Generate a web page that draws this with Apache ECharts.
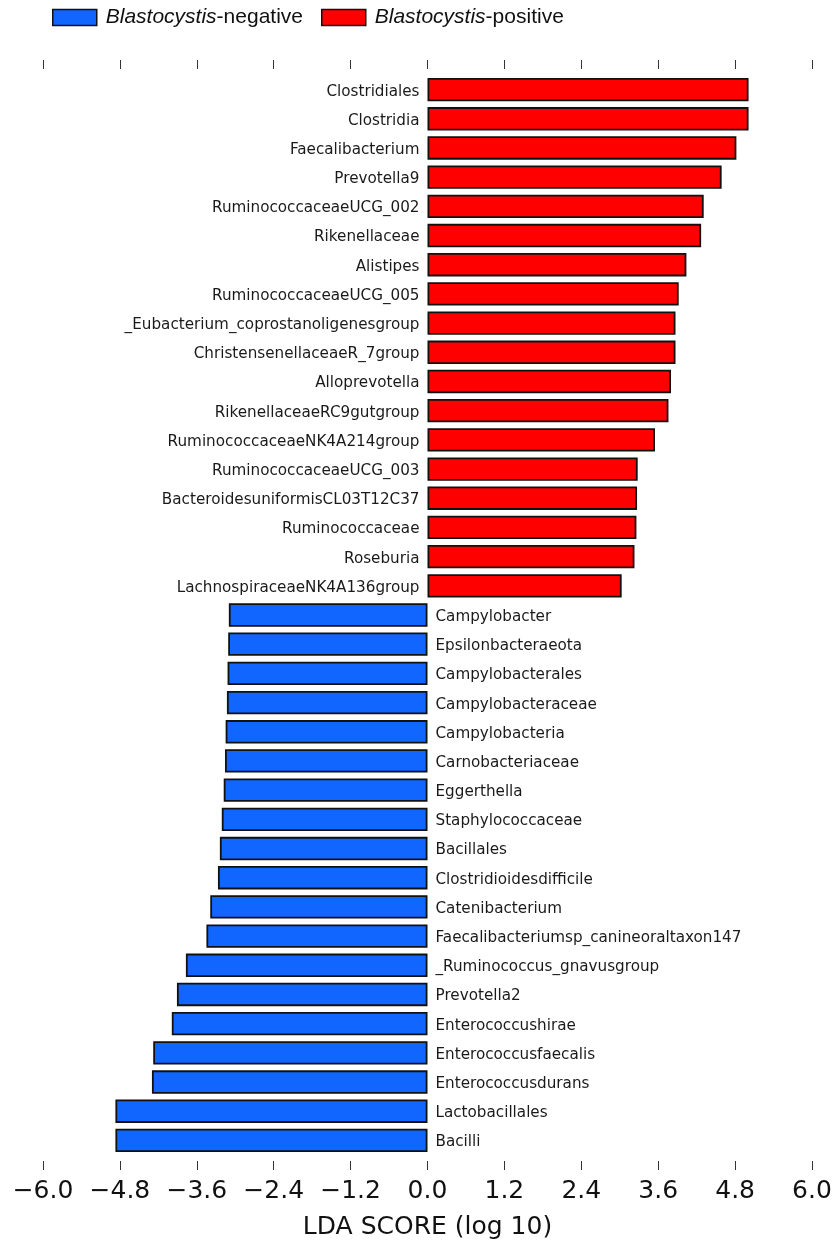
<!DOCTYPE html>
<html>
<head>
<meta charset="utf-8">
<title>LDA scores</title>
<script src="https://cdn.jsdelivr.net/npm/echarts@6/dist/echarts.min.js"></script>
<style>
  html, body { margin: 0; padding: 0; background: #ffffff; }
  #chart { width: 837px; height: 1245px; }
</style>
</head>
<body>
<div id="chart"></div>
<script>
// Taxa ordered top to bottom
const taxa = [
  'Clostridiales', 'Clostridia', 'Faecalibacterium', 'Prevotella9',
  'RuminococcaceaeUCG_002', 'Rikenellaceae', 'Alistipes', 'RuminococcaceaeUCG_005',
  '_Eubacterium_coprostanoligenesgroup', 'ChristensenellaceaeR_7group', 'Alloprevotella',
  'RikenellaceaeRC9gutgroup', 'RuminococcaceaeNK4A214group', 'RuminococcaceaeUCG_003',
  'BacteroidesuniformisCL03T12C37', 'Ruminococcaceae', 'Roseburia', 'LachnospiraceaeNK4A136group',
  'Campylobacter', 'Epsilonbacteraeota', 'Campylobacterales', 'Campylobacteraceae',
  'Campylobacteria', 'Carnobacteriaceae', 'Eggerthella', 'Staphylococcaceae', 'Bacillales',
  'Clostridioidesdifficile', 'Catenibacterium', 'Faecalibacteriumsp_canineoraltaxon147',
  '_Ruminococcus_gnavusgroup', 'Prevotella2', 'Enterococcushirae', 'Enterococcusfaecalis',
  'Enterococcusdurans', 'Lactobacillales', 'Bacilli'
];

// LDA scores enriched in Blastocystis-positive samples (first 18 taxa)
const positiveScores = [
  5.01, 5.01, 4.82, 4.59, 4.31, 4.27, 4.04, 3.92, 3.87, 3.87,
  3.80, 3.76, 3.55, 3.28, 3.27, 3.26, 3.23, 3.03
];

// LDA scores enriched in Blastocystis-negative samples (remaining 19 taxa)
const negativeScores = [
  -3.10, -3.11, -3.12, -3.13, -3.15, -3.16, -3.18, -3.21, -3.24, -3.27,
  -3.39, -3.45, -3.77, -3.91, -3.99, -4.28, -4.30, -4.87, -4.87
];

const xTicks = [-6.0, -4.8, -3.6, -2.4, -1.2, 0.0, 1.2, 2.4, 3.6, 4.8, 6.0];

const seriesNames = ['Blastocystis-negative', 'Blastocystis-positive'];
const legendLabels = {
  'Blastocystis-negative': '{i|Blastocystis}-negative',
  'Blastocystis-positive': '{i|Blastocystis}-positive'
};

const nPos = positiveScores.length;
const posData = taxa.map((t, i) => (i < nPos ? positiveScores[i] : '-'));
const negData = taxa.map((t, i) => (i >= nPos ? negativeScores[i - nPos] : '-'));

const fmtTick = v => {
  if (Math.abs(v) < 1e-9) return '0.0';
  return (v < 0 ? '\u2212' : '') + Math.abs(v).toFixed(1);
};

const tickStyle = { show: true, length: 9, lineStyle: { color: '#333', width: 1 } };
const xMin = xTicks[0], xMax = xTicks[xTicks.length - 1];
const xStep = +(xTicks[1] - xTicks[0]).toFixed(6);

const labelFont = { fontFamily: 'DejaVu Sans', fontSize: 15.2, color: '#1a1a1a', offset: [0, 2] };
const edge = { borderColor: '#111', borderWidth: 1.8 };

const chart = echarts.init(document.getElementById('chart'), null, { renderer: 'canvas' });
chart.setOption({
  animation: false,
  backgroundColor: '#ffffff',
  legend: {
    data: seriesNames,
    top: 2,
    left: 47,
    icon: 'rect',
    itemWidth: 44,
    itemHeight: 16,
    itemGap: 18,
    itemStyle: { borderColor: '#111', borderWidth: 1.5 },
    formatter: name => legendLabels[name],
    textStyle: {
      fontFamily: 'Liberation Sans',
      fontSize: 21,
      color: '#111',
      padding: [0, 0, 0, 4],
      rich: { i: { fontFamily: 'Liberation Sans', fontSize: 21, fontStyle: 'italic', color: '#111' } }
    }
  },
  grid: { left: 43, right: 25, top: 75, bottom: 88, containLabel: false },
  xAxis: [
    {
      type: 'value', position: 'bottom', offset: 6,
      min: xMin, max: xMax, interval: xStep,
      axisLine: { show: false },
      axisTick: tickStyle,
      splitLine: { show: false },
      axisLabel: {
        formatter: fmtTick, margin: 18,
        fontFamily: 'DejaVu Sans', fontSize: 25, color: '#111'
      },
      name: 'LDA SCORE (log 10)',
      nameLocation: 'middle',
      nameGap: 54,
      nameTextStyle: { fontFamily: 'DejaVu Sans', fontSize: 25, color: '#111' }
    },
    {
      type: 'value', position: 'top', offset: 6,
      min: xMin, max: xMax, interval: xStep,
      axisLine: { show: false },
      axisTick: tickStyle,
      splitLine: { show: false },
      axisLabel: { show: false }
    }
  ],
  yAxis: {
    type: 'category',
    data: taxa,
    inverse: true,
    show: false
  },
  series: [
    {
      name: seriesNames[0],
      type: 'bar',
      data: negData,
      barWidth: '80%',
      barGap: '-100%',
      itemStyle: Object.assign({ color: '#1166ff' }, edge),
      label: Object.assign({ show: true, position: 'right', distance: 8, formatter: '{b}' }, labelFont)
    },
    {
      name: seriesNames[1],
      type: 'bar',
      data: posData,
      barWidth: '80%',
      barGap: '-100%',
      itemStyle: Object.assign({ color: '#ff0000' }, edge),
      label: Object.assign({ show: true, position: 'left', distance: 8, formatter: '{b}' }, labelFont)
    }
  ]
});
</script>
</body>
</html>
